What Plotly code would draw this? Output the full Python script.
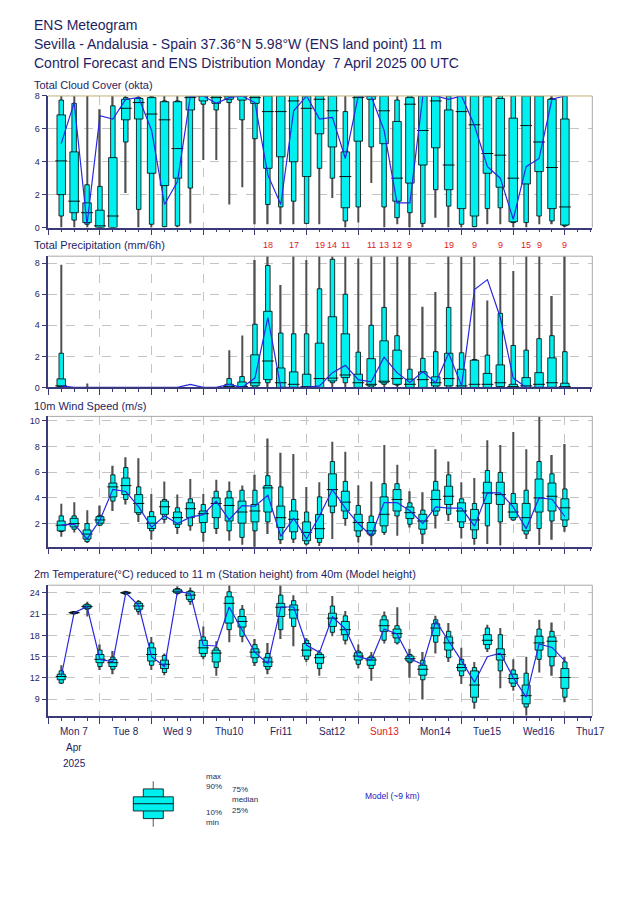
import plotly.graph_objects as go
import pandas as pd

# ---------------- data ----------------
TIMES = pd.date_range("2025-04-07 06:00", periods=40, freq="6h")

CLOUD_MIN = [0, 0, 0, 0, 0, 2.1, 0, 0, 0, 0, 0.25, 4.1, 4.1, 1.4, 2.45, 0.2, 0.2, 0.2, 0.2, 0.2,
             0.2, 1.8, 0, 0.3, 2.7, 0, 0.2, 0, 0, 0.6, 0, 0, 0, 0.2, 0.2, 0, 0, 0.2, 0.2, 0]
CLOUD_P10 = [0.7, 0.45, 0.2, 0, 0, 5.2, 1.1, 0.2, 0.05, 0.1, 2.4, 7.5, 7.15, 7.6, 6.55, 5.4, 1.4, 1.25, 1.6, 0.25,
             3.6, 3.0, 0.4, 1.25, 4.9, 1.25, 0.6, 0.9, 0.25, 2.3, 1.3, 0.2, 0.05, 1.15, 1.2, 0.3, 0.3, 0.7, 0.4, 0.1]
CLOUD_P25 = [2.0, 0.9, 0.3, 0, 0, 6.55, 6.6, 3.3, 2.55, 3.0, 7.15, 7.7, 7.55, 7.8, 7.75, 7.55, 3.6, 4.3, 4.0, 3.1,
             5.7, 4.9, 1.2, 5.25, 7.8, 5.1, 1.6, 2.7, 3.8, 4.85, 2.3, 1.15, 0.7, 3.3, 2.45, 0.35, 2.65, 3.4, 1.15, 0.15]
CLOUD_MED = [4.05, 1.6, 0.9, 0.1, 0.7, 7.25, 7.6, 6.9, 6.55, 4.8, 7.9, 8, 7.9, 8, 8, 7.9, 7.05, 7.05, 7.7, 7.25,
             7.8, 7.1, 3.1, 7.9, 8, 7.1, 3.0, 7.5, 5.9, 7.7, 3.8, 7.05, 6.25, 4.5, 4.4, 3.0, 6.2, 5.2, 3.65, 1.25]
CLOUD_P75 = [6.85, 4.6, 1.5, 1.05, 4.25, 7.8, 7.85, 7.9, 7.65, 7.65, 8, 8, 8, 8, 8, 8, 8, 8, 8, 8,
             8, 8, 4.6, 8, 8, 8, 6.45, 7.9, 8, 8, 7.15, 8, 8, 7.95, 7.85, 6.65, 8, 8, 7.8, 6.6]
CLOUD_P90 = [7.75, 7.55, 2.6, 2.5, 7.4, 7.9, 7.9, 7.95, 7.7, 7.7, 8, 8, 8, 8, 8, 8, 8, 8, 8, 8,
             8, 8, 7.05, 8, 8, 8, 7.75, 8, 8, 8, 8, 8, 8, 8, 8, 8, 8, 8, 7.85, 8]
CLOUD_MAX = [8, 8, 8, 7.2, 8, 8, 8, 8, 8, 8, 8, 8, 8, 8, 8, 8, 8, 8, 8, 8,
             8, 8, 8, 8, 8, 8, 8, 8, 8, 8, 8, 8, 8, 8, 8, 8, 8, 8, 8, 8]
CLOUD_CTRL = [5.1, 7.6, 0.2, 6.8, 6.6, 7.8, 7.9, 5.9, 1.4, 2.8, 8, 8, 7.55, 7.9, 8, 7.6, 3.2, 1.4, 7.1, 8,
              6.6, 6.7, 4.2, 8, 8, 5.9, 1.5, 1.5, 8, 8, 7.8, 8, 6.2, 3.7, 3.0, 0.5, 3.7, 4.2, 7.8, 8]

PR_MIN = [0] * 40
PR_P10 = [0, 0, 0, 0, 0, 0, 0, 0, 0, 0, 0, 0, 0, 0, 0, 0, 0.3, 0, 0, 0,
          0, 0.3, 0.3, 0, 0, 0.2, 0.15, 0, 0, 0, 0, 0, 0, 0, 0, 0, 0, 0, 0, 0]
PR_P25 = [0.05, 0, 0, 0, 0, 0, 0, 0, 0, 0, 0, 0, 0, 0, 0, 0.1, 0.5, 0, 0, 0,
          0, 0.42, 0.63, 0, 0.1, 0.3, 0.2, 0, 0, 0.1, 0.1, 0, 0, 0, 0.05, 0, 0, 0, 0, 0]
PR_MED = [0.1, 0, 0, 0, 0, 0, 0, 0, 0, 0, 0, 0, 0, 0.05, 0.05, 0.3, 1.7, 0.3, 0.2, 0.05,
          0.57, 0.6, 0.8, 0.3, 0.2, 0.4, 0.57, 0.2, 0.5, 0.3, 0.57, 0.1, 0.2, 0.2, 0.3, 0.05, 0.1, 0.2, 0.3, 0.05]
PR_P75 = [0.55, 0, 0, 0, 0, 0, 0, 0, 0, 0, 0, 0, 0, 0.2, 0.35, 2.1, 4.9, 1.25, 1.0, 0.85,
          2.85, 4.55, 3.45, 0.85, 1.85, 3.0, 2.4, 0.53, 1.0, 0.68, 2.2, 1.17, 1.75, 0.9, 1.45, 0.2, 0.63, 0.95, 1.9, 0.27]
PR_P90 = [2.2, 0, 0, 0, 0, 0, 0, 0, 0, 0, 0, 0, 0, 0.57, 0.7, 4.07, 7.85, 3.5, 3.45, 3.45,
          6.35, 8.25, 6.0, 2.27, 4.0, 5.15, 3.33, 1.17, 1.87, 2.3, 5.15, 2.23, 1.8, 2.08, 4.77, 2.7, 2.4, 3.14, 3.33, 2.3]
PR_MAX = [7.9, 0, 0.25, 0, 0, 0, 0, 0, 0, 0, 0, 0, 0, 2.4, 3.35, 8.2, 18, 6.6, 17, 8.2,
          19, 14, 11, 8.3, 11, 13, 12, 9, 5.2, 6.15, 19, 8.4, 9, 5.6, 9, 7.5, 15, 9, 5.88, 9]
PR_CTRL = [0.1, 0, 0, 0, 0, 0, 0, 0, 0, 0, 0.2, 0, 0, 0.2, 0, 0.6, 4.5, 0, 0, 0,
           0.1, 0.95, 1.42, 0.5, 0.36, 1.95, 0.95, 0.32, 1.0, 0.3, 2.2, 0.1, 6.3, 6.94, 4.5, 0.6, 0, 0, 0, 0]

W_MIN = [0.97, 1.3, 0.48, 1.8, 2.98, 3.49, 2.13, 0.74, 2.03, 1.18, 1.43, 0.59, 1.18, 0.66, 0.35, 0.0, 1.18, 0.41, 0.48, 0.28,
         0.25, 0.79, 1.82, 0.53, 0.28, 1.1, 1.05, 1.69, 0.41, 1.61, 2.2, 0.84, 0.35, 0.41, 0.28, 2.2, 0.79, 0.33, 0.74, 1.36]
W_P10 = [1.38, 1.56, 0.59, 1.87, 3.75, 3.88, 2.72, 1.43, 2.33, 1.69, 1.82, 1.31, 1.61, 1.43, 0.92, 1.43, 2.13, 0.74, 0.79, 0.41,
         0.53, 2.85, 2.39, 1.0, 1.05, 1.31, 2.59, 1.95, 1.18, 2.64, 2.72, 1.69, 0.84, 1.82, 2.13, 2.28, 1.18, 1.61, 2.2, 1.77]
W_P25 = [1.43, 1.74, 0.79, 2.03, 4.08, 4.26, 2.85, 1.61, 2.72, 1.95, 2.46, 2.08, 2.46, 2.2, 2.03, 2.13, 2.9, 1.69, 1.36, 0.66,
         0.84, 3.36, 2.98, 1.43, 1.18, 1.82, 2.98, 2.39, 1.56, 2.98, 3.49, 2.13, 1.51, 3.57, 3.49, 2.46, 1.43, 2.9, 2.98, 2.28]
W_MED = [1.87, 2.0, 1.18, 2.28, 4.86, 4.96, 3.57, 2.03, 3.31, 2.46, 3.16, 2.77, 3.57, 3.41, 2.9, 2.98, 4.78, 2.46, 2.33, 1.31,
         1.6, 4.65, 3.67, 2.08, 1.43, 2.72, 3.88, 2.85, 2.2, 3.88, 4.13, 2.98, 2.28, 4.39, 4.26, 2.9, 2.46, 4.0, 4.13, 3.23]
W_P75 = [2.2, 2.41, 1.5, 2.54, 5.16, 5.55, 4.26, 2.54, 3.75, 2.9, 3.62, 2.98, 4.0, 4.0, 3.75, 3.49, 4.96, 3.36, 2.98, 2.13,
         2.7, 5.88, 4.52, 2.72, 2.08, 4.08, 4.65, 3.29, 2.72, 4.6, 4.91, 3.62, 3.1, 5.22, 5.22, 3.57, 3.57, 5.47, 5.16, 3.93]
W_P90 = [2.6, 2.6, 2.0, 2.64, 5.8, 6.37, 4.86, 2.93, 3.88, 3.23, 3.93, 3.49, 4.52, 4.52, 4.6, 4.6, 5.73, 4.86, 3.88, 2.9,
         4.08, 6.84, 5.29, 3.41, 2.59, 5.11, 5.11, 3.62, 3.05, 5.29, 5.8, 3.93, 3.57, 6.14, 5.99, 4.34, 4.6, 6.84, 5.88, 4.7]
W_MAX = [3.54, 3.67, 3.03, 3.41, 6.5, 7.17, 7.09, 4.31, 5.29, 4.26, 5.47, 4.31, 5.42, 5.29, 4.96, 5.8, 8.64, 7.53, 7.43, 4.86,
         5.22, 8.38, 7.6, 4.98, 5.29, 8.12, 6.58, 4.52, 4.44, 7.79, 6.84, 5.22, 5.55, 8.5, 8.12, 9.15, 7.79, 10.36, 7.35, 8.2]
W_CTRL = [1.87, 1.95, 0.8, 2.28, 4.67, 4.5, 3.3, 1.7, 2.6, 2.0, 2.5, 2.7, 3.75, 2.3, 3.4, 3.35, 4.2, 1.0, 2.4, 0.8,
          2.6, 4.65, 3.2, 2.0, 1.05, 3.64, 3.64, 3.0, 2.0, 3.3, 3.2, 3.2, 1.8, 4.4, 4.4, 3.3, 1.6, 4.0, 3.9, 2.55]

T_MIN = [11.13, 20.98, 20.66, 13.13, 12.53, 23.67, 20.89, 13.13, 12.39, 23.67, 22.28, 14.62, 12.3, 17.03, 17.03, 13.69, 12.53, 17.5, 16.48, 14.25,
         12.3, 17.87, 16.7, 13.32, 11.6, 16.85, 16.7, 12.06, 8.95, 15.45, 14.25, 11.13, 7.65, 15.64, 10.53, 10.2, 6.72, 12.76, 12.3, 8.58]
T_P10 = [11.27, 21.03, 21.68, 13.6, 13.22, 23.8, 21.35, 13.78, 12.76, 23.9, 22.75, 15.0, 13.46, 18.8, 17.87, 14.15, 13.22, 18.8, 19.26, 14.62,
         13.32, 18.43, 17.31, 13.92, 13.32, 17.31, 16.94, 14.15, 11.74, 17.03, 14.85, 12.3, 8.58, 16.1, 12.99, 10.81, 7.89, 14.62, 13.69, 9.28]
T_P25 = [11.74, 21.1, 21.82, 14.15, 13.6, 23.9, 21.68, 14.38, 13.32, 24.0, 23.07, 15.45, 14.25, 19.73, 19.17, 14.85, 13.6, 20.66, 20.42, 15.08,
         14.06, 19.26, 18.1, 14.52, 13.78, 18.57, 17.64, 14.38, 12.39, 17.96, 15.92, 12.99, 9.28, 16.7, 14.52, 11.27, 8.35, 15.92, 15.0, 10.53]
T_MED = [12.2, 21.2, 22.05, 14.62, 14.15, 24.0, 22.14, 15.31, 13.92, 24.23, 23.67, 16.24, 15.5, 22.51, 19.96, 15.64, 14.25, 21.96, 21.59, 15.92,
         14.85, 20.42, 18.8, 15.08, 14.52, 19.36, 18.24, 14.71, 13.22, 19.03, 16.94, 13.46, 11.0, 17.31, 15.31, 11.92, 9.5, 16.94, 17.17, 12.06]
T_P75 = [12.53, 21.3, 22.28, 15.3, 14.6, 24.1, 22.51, 16.24, 14.5, 24.5, 24.14, 17.31, 15.92, 23.44, 20.66, 16.1, 14.85, 22.51, 22.28, 16.85,
         15.31, 21.12, 19.96, 15.55, 14.85, 20.19, 18.89, 15.08, 13.78, 19.63, 17.78, 13.92, 12.99, 18.1, 16.1, 12.53, 11.0, 17.87, 17.78, 13.32]
T_P90 = [13.0, 21.35, 22.42, 15.92, 14.94, 24.15, 22.75, 16.94, 15.17, 24.6, 24.28, 17.78, 16.24, 24.14, 21.68, 16.7, 15.45, 23.67, 22.89, 17.31,
         15.55, 22.14, 20.75, 15.78, 15.08, 20.75, 19.36, 15.31, 14.5, 20.19, 18.57, 14.62, 13.46, 19.03, 18.1, 13.13, 12.67, 18.89, 18.57, 14.25]
T_MAX = [13.78, 21.45, 22.75, 16.7, 15.78, 24.28, 22.98, 17.78, 15.45, 24.93, 24.74, 19.26, 17.17, 25.2, 22.28, 17.5, 16.94, 25.07, 23.67, 17.64,
         15.92, 23.54, 21.45, 16.7, 15.64, 21.35, 21.96, 16.1, 15.64, 20.75, 19.73, 16.24, 14.25, 19.5, 19.03, 14.62, 15.0, 20.19, 19.82, 15.0]
T_CTRL = [12.2, 21.2, 22.05, 14.6, 14.3, 24.0, 22.2, 15.0, 13.6, 24.2, 23.9, 16.6, 16.5, 22.0, 18.8, 15.6, 14.0, 22.0, 22.0, 16.6,
          15.6, 20.6, 18.9, 15.0, 14.5, 18.9, 18.2, 14.7, 13.9, 20.0, 17.2, 14.4, 11.4, 15.0, 15.5, 12.05, 9.3, 16.8, 16.3, 14.4]

DAY_DATES = pd.date_range("2025-04-07 12:00", periods=11, freq="D")
DAY_LABELS = ["Mon 7", "Tue 8", "Wed 9", "Thu10", "Fri11", "Sat12", "Sun13", "Mon14", "Tue15", "Wed16", "Thu17"]
LEGEND_GROUPS = [["max", "90%"], ["75%", "median", "25%"], ["10%", "min"]]

TITLE_LINES = ["ENS Meteogram",
               "Sevilla - Andalusia - Spain 37.36°N 5.98°W (ENS land point) 11 m",
               "Control Forecast and ENS Distribution Monday  7 April 2025 00 UTC"]
PANEL_TITLES = ["Total Cloud Cover (okta)", "Total Precipitation (mm/6h)", "10m Wind Speed (m/s)",
                "2m Temperature(°C) reduced to 11 m (Station height) from 40m (Model height)"]

# ---------------- style / layout ----------------
W, H = 640, 902
FONT = "Liberation Sans, Arial, sans-serif"
NAVY = "#3a3a78"
TXT = "#1e1e64"
GRID = "#c4c4c4"
CYAN = "#00f0f0"
BLUE = "#2828e0"
WHISK = "#505050"
PX_MS = 86400000 / 51.67

def px_x(p):
    return p / W

def px_y(p):
    return 1 - p / H

X_RANGE = ["2025-04-07 00:00", "2025-04-17 12:44"]
X_DOM = [px_x(48.3), px_x(592.3)]

panels = [
    dict(data=(CLOUD_MIN, CLOUD_P10, CLOUD_P25, CLOUD_MED, CLOUD_P75, CLOUD_P90, CLOUD_MAX, CLOUD_CTRL),
         top=92, bot=225, rng=[0, 8], tv=[0, 2, 4, 6, 8], title_y=80.5, wide=8.5, thin=4.5, flag=False),
    dict(data=(PR_MIN, PR_P10, PR_P25, PR_MED, PR_P75, PR_P90, PR_MAX, PR_CTRL),
         top=254, bot=386.7, rng=[0, 8.45], tv=[0, 2, 4, 6, 8], title_y=243, wide=8.5, thin=4.5, flag=True),
    dict(data=(W_MIN, W_P10, W_P25, W_MED, W_P75, W_P90, W_MAX, W_CTRL),
         top=416, bot=547.7, rng=[0.2, 10.36], tv=[2, 4, 6, 8, 10], title_y=406, wide=8.0, thin=4.3, flag=False),
    dict(data=(T_MIN, T_P10, T_P25, T_MED, T_P75, T_P90, T_MAX, T_CTRL),
         top=586.7, bot=719, rng=[6.63, 25.07], tv=[9, 12, 15, 18, 21, 24], title_y=575.5, wide=8.0, thin=4.3, flag=False),
]

fig = go.Figure()
layout = dict(width=W, height=H, margin=dict(l=0, r=0, t=0, b=0), showlegend=False,
              paper_bgcolor="white", plot_bgcolor="white", barmode="overlay",
              font=dict(family=FONT, color=TXT), annotations=[], shapes=[])

for i, p in enumerate(panels, start=1):
    s = "" if i == 1 else str(i)
    xa, ya = "x" + s, "y" + s
    mn, p10, p25, med, p75, p90, mx, ctrl = p["data"]

    def hgt(a, b):
        return [(bb - aa) if bb - aa > 0 else None for aa, bb in zip(a, b)]

    fig.add_trace(go.Bar(x=TIMES, base=mn, y=hgt(mn, mx), width=1.4 * PX_MS, xaxis=xa, yaxis=ya,
                         marker=dict(color=WHISK, line=dict(width=0)), hoverinfo="skip"))
    fig.add_trace(go.Bar(x=TIMES, base=p10, y=hgt(p10, p90), width=p["thin"] * PX_MS, xaxis=xa, yaxis=ya,
                         marker=dict(color=CYAN, line=dict(width=0.8, color="black")), hoverinfo="skip"))
    fig.add_trace(go.Bar(x=TIMES, base=p25, y=hgt(p25, p75), width=p["wide"] * PX_MS, xaxis=xa, yaxis=ya,
                         marker=dict(color=CYAN, line=dict(width=0.8, color="black")), hoverinfo="skip"))
    med_vis = [m if h > 0 else None for m, h in zip(med, p90)]
    fig.add_trace(go.Scatter(x=TIMES, y=med_vis, mode="markers", xaxis=xa, yaxis=ya,
                             marker=dict(symbol="line-ew", size=p["wide"], line=dict(width=0.9, color="black")),
                             hoverinfo="skip"))
    fig.add_trace(go.Scatter(x=TIMES, y=ctrl, mode="lines", xaxis=xa, yaxis=ya,
                             line=dict(color=BLUE, width=1.2), hoverinfo="skip"))

    dom = [px_y(p["bot"]), px_y(p["top"])]
    layout["xaxis" + s] = dict(domain=X_DOM, anchor=ya, range=X_RANGE, type="date",
                               showline=True, linecolor=NAVY, linewidth=1.5,
                               ticks="outside", ticklen=6, tickwidth=1, tickcolor=NAVY,
                               dtick=86400000, tick0="2025-04-07", showticklabels=False,
                               showgrid=True, gridcolor=GRID, griddash="dash", gridwidth=1,
                               minor=dict(dtick=21600000, tick0="2025-04-07", ticks="outside", ticklen=3,
                                          tickcolor=NAVY, tickwidth=1, showgrid=False),
                               zeroline=False, fixedrange=True)
    layout["yaxis" + s] = dict(domain=dom, anchor=xa, range=p["rng"], tickvals=p["tv"],
                               showline=True, linecolor=NAVY, linewidth=1.5,
                               ticks="outside", ticklen=5, tickwidth=1, tickcolor=NAVY,
                               tickfont=dict(size=9, color=TXT, family=FONT),
                               showgrid=True, gridcolor=GRID, griddash="dash", gridwidth=1,
                               zeroline=False, fixedrange=True)
    top_col = "#bdb07a" if i == 1 else "#a8a8a8"
    layout["shapes"].append(dict(type="line", xref=xa + " domain", yref=ya + " domain",
                                 x0=0, x1=1, y0=1, y1=1, line=dict(color=top_col, width=1), layer="above"))
    layout["shapes"].append(dict(type="line", xref=xa + " domain", yref=ya + " domain",
                                 x0=1, x1=1, y0=0, y1=1, line=dict(color="#a8a8a8", width=1), layer="above"))
    layout["annotations"].append(dict(text=PANEL_TITLES[i - 1], xref="paper", yref="paper",
                                      x=px_x(32), y=px_y(p["title_y"]), xanchor="left", yanchor="middle",
                                      showarrow=False, font=dict(size=11, color=TXT, family=FONT)))
    if p["flag"]:
        # maxima that fall above the precipitation scale are written in red
        for t, m in zip(TIMES, mx):
            if m > p["rng"][1]:
                layout["annotations"].append(dict(text=str(int(round(m))), xref=xa, yref="paper", x=t,
                                                  y=px_y(243), xanchor="center", yanchor="middle",
                                                  showarrow=False,
                                                  font=dict(size=9, color="#e02020", family=FONT)))

for line, yy in zip(TITLE_LINES, [20, 39.5, 58.5]):
    layout["annotations"].append(dict(text=line, xref="paper", yref="paper", x=px_x(32), y=px_y(yy),
                                      xanchor="left", yanchor="middle", showarrow=False,
                                      font=dict(size=14, color=TXT, family=FONT)))

for d, lab in zip(DAY_DATES, DAY_LABELS):
    col = "#e02020" if lab.startswith("Sun") else TXT
    layout["annotations"].append(dict(text=lab, xref="x4", yref="paper", x=d, y=px_y(735),
                                      xanchor="center", yanchor="middle", showarrow=False,
                                      font=dict(size=10, color=col, family=FONT)))
for txt, yy in [("Apr", 751), ("2025", 767)]:
    layout["annotations"].append(dict(text=txt, xref="x4", yref="paper", x=DAY_DATES[0], y=px_y(yy),
                                      xanchor="center", yanchor="middle", showarrow=False,
                                      font=dict(size=10, color=TXT, family=FONT)))

# legend glyph
def rect(x0, x1, y0, y1):
    return dict(type="rect", xref="paper", yref="paper", x0=px_x(x0), x1=px_x(x1), y0=px_y(y1), y1=px_y(y0),
                fillcolor=CYAN, line=dict(color="black", width=0.8), layer="above")

layout["shapes"].append(dict(type="line", xref="paper", yref="paper", x0=px_x(153.3), x1=px_x(153.3),
                             y0=px_y(831), y1=px_y(785), line=dict(color="#888888", width=1.4)))
layout["shapes"].append(rect(143.3, 163.3, 792.7, 822.7))
layout["shapes"].append(rect(133.3, 173.3, 800.7, 815))
layout["shapes"].append(dict(type="line", xref="paper", yref="paper", x0=px_x(133.3), x1=px_x(173.3),
                             y0=px_y(807.7), y1=px_y(807.7), line=dict(color="black", width=0.9), layer="above"))
for grp, (xx, yy) in zip(LEGEND_GROUPS, [(204.3, 785), (230, 803.5), (204.3, 822)]):
    layout["annotations"].append(dict(text="<br>".join(grp), xref="paper", yref="paper", x=px_x(xx), y=px_y(yy),
                                      xanchor="left", yanchor="middle", align="left", showarrow=False,
                                      font=dict(size=8, color="#2a2a50", family=FONT)))
layout["annotations"].append(dict(text="Model (~9 km)", xref="paper", yref="paper", x=px_x(363), y=px_y(800),
                                  xanchor="left", yanchor="middle", showarrow=False,
                                  font=dict(size=8.5, color="#2020c0", family=FONT)))

fig.update_layout(**layout)
fig.write_html("out.html", config={"displayModeBar": False},
               post_script="document.body.style.margin='0';")
